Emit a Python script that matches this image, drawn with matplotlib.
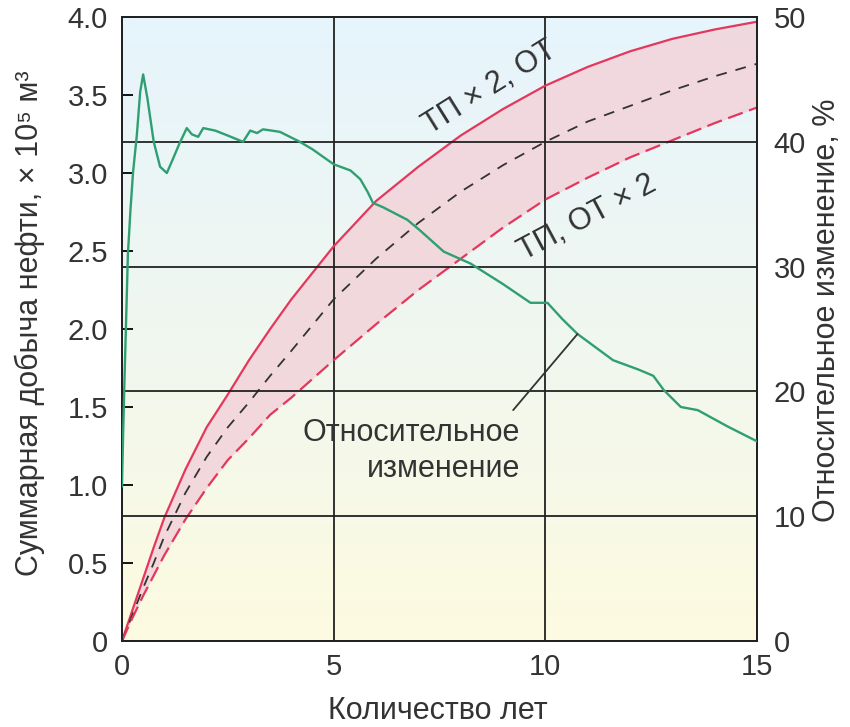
import numpy as np
import matplotlib
matplotlib.use("Agg")
import matplotlib.pyplot as plt
from matplotlib import font_manager as fm

# --- data -------------------------------------------------------------
years = [0, 0.25, 0.5, 0.75, 1, 1.5, 2, 2.5, 3, 3.5, 4, 5, 6, 7, 8, 9, 10, 11, 12, 13, 14, 15]
tp2_ot = [0, 0.20, 0.40, 0.60, 0.79, 1.10, 1.37, 1.58, 1.80, 2.00, 2.19, 2.53, 2.82, 3.04,
          3.24, 3.41, 3.56, 3.68, 3.78, 3.86, 3.92, 3.97]
base = [0, 0.17, 0.34, 0.50, 0.67, 0.95, 1.18, 1.37, 1.53, 1.70, 1.86, 2.19, 2.45, 2.68,
        2.88, 3.05, 3.20, 3.33, 3.43, 3.53, 3.62, 3.70]
tp_ot2 = [0, 0.15, 0.29, 0.42, 0.55, 0.78, 0.98, 1.16, 1.30, 1.45, 1.56, 1.80, 2.03, 2.25,
          2.45, 2.65, 2.83, 2.97, 3.10, 3.21, 3.32, 3.42]

rel_x = [0.0, 0.03, 0.06, 0.10, 0.14, 0.20, 0.26, 0.35, 0.43, 0.50, 0.60, 0.75, 0.90, 1.06,
         1.20, 1.35, 1.53, 1.65, 1.80, 1.92, 2.20, 2.50, 2.86, 3.03, 3.19, 3.33, 3.73, 4.20,
         4.50, 5.00, 5.40, 5.63, 5.80, 5.93, 6.17, 6.74, 7.04, 7.60, 8.23, 9.00, 9.65, 10.05,
         10.40, 10.76, 11.20, 11.60, 12.20, 12.55, 12.80, 13.20, 13.60, 14.30, 15.00]
rel_pct = [12.4, 17, 21, 26, 31, 34.5, 37.5, 40.5, 44, 45.4, 43.5, 40, 38, 37.5,
           38.6, 39.8, 41.1, 40.6, 40.4, 41.1, 40.9, 40.5, 40.0, 40.9, 40.7, 41.0, 40.8, 40.0,
           39.4, 38.2, 37.7, 37.0, 36.0, 35.1, 34.75, 33.75, 32.9, 31.2, 30.25, 28.6, 27.1, 27.1,
           25.8, 24.6, 23.5, 22.5, 21.75, 21.25, 20.1, 18.75, 18.5, 17.2, 16.0]

left_ticks = [0, 0.5, 1.0, 1.5, 2.0, 2.5, 3.0, 3.5, 4.0]
left_labels = ["0", "0.5", "1.0", "1.5", "2.0", "2.5", "3.0", "3.5", "4.0"]
right_ticks = [0, 10, 20, 30, 40, 50]
x_ticks = [0, 5, 10, 15]

# --- fonts ------------------------------------------------------------
def pick(names):
    for n in names:
        try:
            fm.findfont(fm.FontProperties(family=n), fallback_to_default=False)
            return n
        except Exception:
            pass
    return "DejaVu Sans"

main_font = pick(["Liberation Sans Narrow", "Liberation Sans"])
plt.rcParams["font.family"] = [main_font, "DejaVu Sans"]

TXT = "#333333"
RED = "#e4375c"
GREEN = "#2f9f72"
FS_TICK = 21
FS_LAB = 22

fig = plt.figure(figsize=(8.5, 7.27), dpi=100)
ax = fig.add_axes([0.1435, 0.1183, 0.7471, 0.8583])
ax2 = ax.twinx()

# soft vertical background gradient (blue at top to pale yellow at bottom)
top = np.array([230, 244, 252]) / 255
mid = np.array([240, 247, 240]) / 255
bot = np.array([253, 251, 224]) / 255
t = np.linspace(0, 1, 256)[:, None]
grad = np.where(t < 0.5, top + (mid - top) * (t / 0.5), mid + (bot - mid) * ((t - 0.5) / 0.5))
ax.imshow(grad[:, None, :].repeat(2, axis=1), extent=[0, 1, 0, 1], transform=ax.transAxes,
          aspect="auto", zorder=0)

ax.fill_between(years, tp_ot2, tp2_ot, color="#f2d3da", alpha=0.85, lw=0, zorder=1)
ax.plot(years, tp2_ot, color=RED, lw=1.6, zorder=3)
ax.plot(years, base, color="#333333", lw=1.3, dashes=(6, 5), zorder=3)
ax.plot(years, tp_ot2, color=RED, lw=1.6, dashes=(7, 3), zorder=3)

ax.set_xlim(0, 15)
ax.set_ylim(0, 4.0)
ax.set_xticks(x_ticks)
ax.set_yticks(left_ticks)
ax.set_yticklabels(left_labels)
ax.xaxis.grid(True, color="#222222", lw=1.3)
ax.set_axisbelow(False)
ax.tick_params(axis="x", length=0, pad=9, labelsize=FS_TICK, labelcolor=TXT)
ax.tick_params(axis="y", direction="in", length=8, width=1.3, pad=10, labelsize=FS_TICK,
               labelcolor=TXT, right=False)

ax2.plot(rel_x, rel_pct, color=GREEN, lw=1.7, zorder=4)
ax2.set_ylim(0, 50)
ax2.set_yticks(right_ticks)
ax2.yaxis.grid(True, color="#222222", lw=1.3)
ax2.tick_params(axis="y", length=0, pad=12, labelsize=FS_TICK, labelcolor=TXT)

for a in (ax, ax2):
    for s in a.spines.values():
        s.set_color("#222222")
        s.set_linewidth(1.4)

ax.set_xlabel("Количество лет", fontsize=FS_LAB, color=TXT)
ax.xaxis.set_label_coords(0.498, -0.088)
ax.set_ylabel("Суммарная добыча нефти, × 10⁵ м³", fontsize=FS_LAB, color=TXT)
ax.yaxis.set_label_coords(-0.122, 0.51)
ax2.set_ylabel("Относительное изменение, %", fontsize=FS_LAB, color=TXT)
ax2.yaxis.set_label_coords(1.087, 0.53)

# curve labels
ax.text(8.7, 3.55, "ТП × 2, ОТ", rotation=32, fontsize=FS_LAB, color=TXT,
        ha="center", va="center", zorder=5)
ax.text(11.0, 2.71, "ТП, ОТ × 2", rotation=28, fontsize=FS_LAB, color=TXT,
        ha="center", va="center", zorder=5)

# leader to the relative-change curve
i = rel_x.index(10.76)
ax2.annotate("", xy=(rel_x[i], rel_pct[i]), xytext=(9.24, 18.5),
             arrowprops=dict(arrowstyle="-", color="#333333", lw=1.3,
                             shrinkA=0, shrinkB=0), zorder=5)
ax.text(9.41, 1.22, "Относительное\nизменение", fontsize=FS_LAB, color=TXT,
        ha="right", va="center", multialignment="right", linespacing=1.25, zorder=5)

fig.savefig("out.png", dpi=100)
